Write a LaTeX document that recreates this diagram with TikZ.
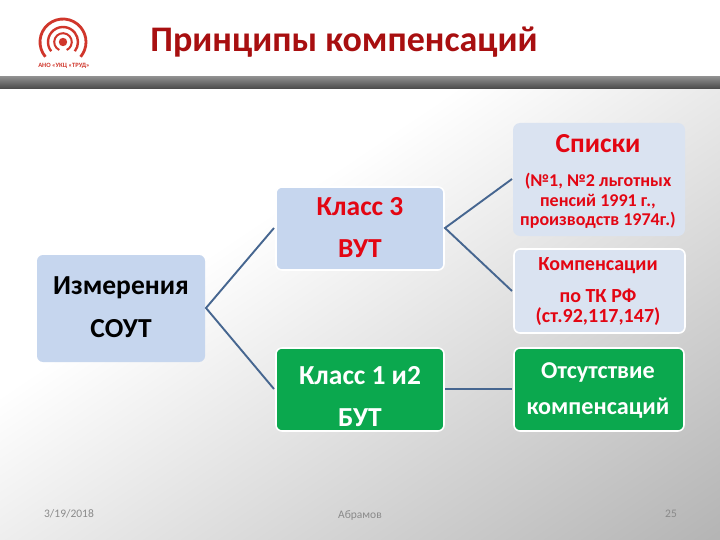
\documentclass[tikz,border=0pt]{standalone}
\usepackage{fontspec}
\setmainfont{Carlito}
\usetikzlibrary{calc}
\definecolor{boxblue}{HTML}{C6D6EE}
\definecolor{boxpale}{HTML}{DAE3F1}
\definecolor{boxgreen}{HTML}{0BA84E}
\definecolor{linkblue}{HTML}{466690}
\definecolor{txtred}{HTML}{E30613}
\definecolor{titlered}{HTML}{A80F10}
\definecolor{logored}{HTML}{D0362B}
\definecolor{foot}{HTML}{8A8A8A}
\tikzset{
  x=1pt,y=-1pt,
  cardbox/.style={rounded corners=6pt,draw=white,line width=1.6pt},
  link/.style={draw=linkblue,line width=1.9pt,line join=miter},
  boxtxt/.style={text=txtred,inner sep=0pt,align=center,font=\bfseries\fontsize{27.5}{27.5}\selectfont},
  foottxt/.style={text=foot,font=\fontsize{11.5}{13}\selectfont}
}
\begin{document}
\begin{tikzpicture}
\useasboundingbox (0,0) rectangle (720,540);
% background
\fill[white] (0,0) rectangle (720,540);
\begin{scope}
\clip (0,89) rectangle (720,540);
\begin{scope}[rotate=-56]
\foreach \i in {1,...,74}{
  \pgfmathsetmacro{\tpos}{332+(\i-1)*7}
  \pgfmathsetmacro{\tint}{\i*29/74}
  \fill[black!\tint!white] (\tpos,-1000) rectangle (900,1000);
}
\end{scope}
\end{scope}
% bar
\path[top color=black!45,bottom color=black!72] (0,77) rectangle (720,89);
% logo
\coordinate (lc) at (63,42);
\fill[logored] (lc) circle (4.2);
\draw[logored,line width=2pt] ($(lc)+(115:8.8)$) arc[start angle=115,end angle=425,radius=8.8];
\draw[logored,line width=2.4pt] ($(lc)+(142:15)$) arc[start angle=142,end angle=398,radius=15];
\draw[logored,line width=2.8pt] ($(lc)+(140:23)$) arc[start angle=140,end angle=400,radius=23];
\node[text=logored,font=\bfseries\fontsize{6.5}{6.5}\selectfont] (logotxt) at (64,66) {АНО «УКЦ «ТРУД»};
% title
\node[text=titlered,font=\bfseries\fontsize{36}{40}\selectfont] (title) at (344,42) {Принципы компенсаций};
% boxes
\draw[cardbox,fill=boxblue,draw=none] (37,255) rectangle (205,362);
\node[boxtxt,text=black] (m1) at (121,288) {Измерения};
\node[boxtxt,text=black] (m2) at (121,329) {СОУТ};
\coordinate (mr) at (206,308);
\draw[cardbox,fill=boxblue] (276,187) rectangle (444,270);
\node[boxtxt] (k3) at (360,207) {Класс 3};
\node[boxtxt] (vut) at (360,249) {ВУТ};
\coordinate (k3l) at (274,228);
\coordinate (k3r) at (445,228);
\draw[cardbox,fill=boxgreen] (276,348) rectangle (444,431);
\node[boxtxt,text=white] (k1) at (360,376) {Класс 1 и2};
\node[boxtxt,text=white] (but) at (360,418) {БУТ};
\coordinate (k1l) at (274,389);
\coordinate (k1r) at (445,389);
\draw[rounded corners=7pt,fill=boxpale,draw=none] (513,123) rectangle (685,236);
\node[boxtxt] (sp) at (598,144) {Списки};
\node[boxtxt,font=\bfseries\fontsize{18}{19.5}\selectfont] (sp2) at (598,201) {(№1, №2 льготных\\пенсий 1991 г.,\\производств 1974г.)};
\coordinate (spl) at (512,179);
\draw[cardbox,fill=boxpale] (514,249) rectangle (685,333);
\node[boxtxt,font=\bfseries\fontsize{20}{20}\selectfont] (kp) at (598,266) {Компенсации};
\node[boxtxt,font=\bfseries\fontsize{20}{20}\selectfont] (tk) at (598,296) {по ТК РФ};
\node[boxtxt,font=\bfseries\fontsize{20}{20}\selectfont] (st) at (598,317) {(ст.92,117,147)};
\coordinate (kpl) at (512,291);
\draw[cardbox,fill=boxgreen] (514,348) rectangle (684,431);
\node[boxtxt,text=white,font=\bfseries\fontsize{24.2}{24.2}\selectfont] (ot) at (598,372) {Отсутствие};
\node[boxtxt,text=white,font=\bfseries\fontsize{24.2}{24.2}\selectfont] (ko) at (598,408) {компенсаций};
\coordinate (otl) at (512,389);
% links
\draw[link] (k3l) -- (mr) -- (k1l);
\draw[link] (spl) -- (k3r) -- (kpl);
\draw[link] (k1r) -- (otl);
% footer
\node[foottxt] (date) at (69,514) {3/19/2018};
\node[foottxt] (auth) at (360,515.5) {Абрамов};
\node[foottxt] (num) at (671,514) {25};
\end{tikzpicture}
\end{document}
